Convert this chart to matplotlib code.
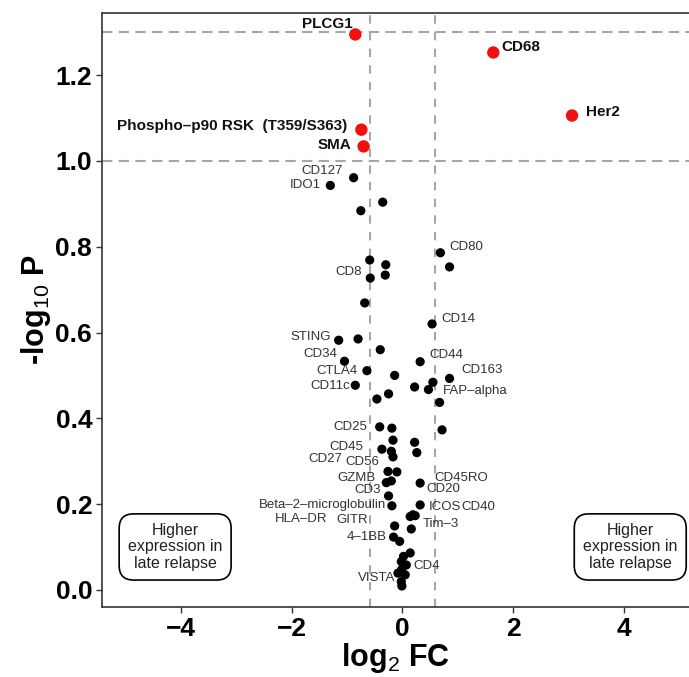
import matplotlib
matplotlib.use("Agg")
import matplotlib.pyplot as plt

plt.rcParams["font.family"] = ["Liberation Sans", "DejaVu Sans"]
plt.rcParams["mathtext.fontset"] = "custom"
plt.rcParams["mathtext.rm"] = "Liberation Sans"
plt.rcParams["mathtext.bf"] = "Liberation Sans:bold"

# ---- significant markers (p < 0.05) ----
sig_names = ["PLCG1", "CD68", "Her2", "Phospho\u2013p90 RSK  (T359/S363)", "SMA"]
sig_log2fc = [-0.85, 1.64, 3.06, -0.74, -0.70]
sig_neglogp = [1.295, 1.253, 1.106, 1.073, 1.034]

# ---- remaining markers ----
names = ["CD127", "IDO1", "", "", "CD80", "", "", "", "", "CD8",
         "", "CD14", "STING", "", "", "CD34", "CD44", "CTLA4", "", "CD163",
         "", "CD11c", "", "FAP\u2013alpha", "", "", "", "CD25", "", "",
         "", "", "CD45", "CD27", "", "", "CD56", "", "GZMB", "",
         "CD45RO", "CD3", "Beta\u20132\u2013microglobulin", "ICOS", "CD40", "", "CD20", "GITR", "Tim\u20133", "4\u20131BB",
         "HLA\u2013DR", "", "", "", "CD4", "", "VISTA", "", "", ""]
log2fc = [-0.88, -1.30, -0.355, -0.75, 0.685, 0.85, -0.59, -0.30, -0.31, -0.58,
          -0.68, 0.535, -1.15, -0.80, -0.40, -1.045, 0.32, -0.64, -0.14, 0.85,
          0.55, -0.85, 0.22, 0.47, -0.25, -0.46, 0.67, -0.41, -0.19, 0.715,
          -0.17, 0.22, -0.37, -0.20, 0.26, -0.17, -0.26, -0.10, -0.29, -0.20,
          0.32, -0.25, -0.19, 0.32, 0.19, 0.14, 0.23, -0.14, 0.16, -0.16,
          -0.05, 0.14, 0.02, -0.02, 0.07, -0.01, -0.08, 0.05, -0.02, -0.01]
neglogp = [0.961, 0.943, 0.904, 0.884, 0.786, 0.753, 0.769, 0.758, 0.734, 0.727,
           0.669, 0.620, 0.582, 0.585, 0.560, 0.533, 0.532, 0.511, 0.500, 0.493,
           0.484, 0.477, 0.473, 0.467, 0.457, 0.445, 0.437, 0.380, 0.377, 0.373,
           0.349, 0.344, 0.328, 0.323, 0.320, 0.310, 0.276, 0.275, 0.250, 0.254,
           0.249, 0.219, 0.196, 0.198, 0.175, 0.171, 0.173, 0.149, 0.142, 0.123,
           0.113, 0.086, 0.078, 0.066, 0.058, 0.048, 0.039, 0.035, 0.019, 0.009]

# label placement: (dx, dy) in pixels, horizontal alignment
label_pos = {
    "CD127": (-11, 7, "right"), "IDO1": (-9, 0, "right"), "CD80": (9, 6, "left"),
    "CD8": (-8, 6, "right"), "CD14": (9, 5, "left"), "STING": (-8, 3, "right"),
    "CD34": (-7, 7, "right"), "CD44": (9, 7, "left"), "CTLA4": (-9, 0, "right"),
    "CD163": (12, 8, "left"), "CD11c": (-5, -1, "right"), "FAP\u2013alpha": (14, -1, "left"),
    "CD25": (-12, 0, "right"), "CD45": (-19, 2, "right"), "CD27": (-49, -8, "right"),
    "CD56": (-9, 9, "right"), "GZMB": (-11, 5, "right"), "CD45RO": (14, 5, "left"),
    "CD3": (-8, 6, "right"), "Beta\u20132\u2013microglobulin": (-6, 1, "right"),
    "ICOS": (9, -2, "left"), "CD40": (48, 8, "left"), "CD20": (11, 27, "left"),
    "GITR": (-27, 6, "right"), "Tim\u20133": (11, 5, "left"), "4\u20131BB": (-7, 0, "right"),
    "HLA\u2013DR": (-72, 22, "right"), "CD4": (7, -1, "left"), "VISTA": (-3, -5, "right"),
}
sig_label_pos = {
    "PLCG1": (-3, 10, "right"), "CD68": (8, 5, "left"), "Her2": (14, 4, "left"),
    "Phospho\u2013p90 RSK  (T359/S363)": (-14, 4, "right"), "SMA": (-12, 1, "right"),
}

fc_cut = 0.585
p_cuts = [1.0, 1.301]

fig = plt.figure(figsize=(6.89, 6.77), dpi=100)
ax = fig.add_axes([0.148, 0.1034, 0.852, 0.878])

for yc in p_cuts:
    ax.axhline(yc, color="#a6a6a6", lw=1.5, ls=(0, (5, 3)), zorder=1)
for xc in (-fc_cut, fc_cut):
    ax.axvline(xc, color="#a6a6a6", lw=1.5, ls=(0, (4, 4)), zorder=1)

ax.scatter(log2fc, neglogp, s=44, color="black", edgecolors="none", zorder=3)
ax.scatter(sig_log2fc, sig_neglogp, s=80, color="#f01010", edgecolors="none", zorder=3)

for n, x, y in zip(names, log2fc, neglogp):
    if n:
        dx, dy, ha = label_pos[n]
        ax.annotate(n, (x, y), xytext=(dx, dy), textcoords="offset pixels",
                    ha=ha, va="center", fontsize=9.5, color="#333333", zorder=4)

for n, x, y in zip(sig_names, sig_log2fc, sig_neglogp):
    dx, dy, ha = sig_label_pos[n]
    ax.annotate(n, (x, y), xytext=(dx, dy), textcoords="offset pixels",
                ha=ha, va="center", fontsize=11, fontweight="bold", color="#111111", zorder=4)

box_text = "Higher\nexpression in\nlate relapse"
for bx in (-4.1, 4.11):
    ax.text(bx, 0.100, box_text, ha="center", va="center", fontsize=11.5,
            color="#222222", linespacing=1.15, zorder=5,
            bbox=dict(boxstyle="round,pad=0.55,rounding_size=0.9",
                      fc="white", ec="black", lw=1.2))

ax.set_xlim(-5.42, 5.17)
ax.set_ylim(-0.04, 1.346)
ax.set_xticks([-4, -2, 0, 2, 4])
ax.set_yticks([0.0, 0.2, 0.4, 0.6, 0.8, 1.0, 1.2])
ax.set_yticklabels(["0.0", "0.2", "0.4", "0.6", "0.8", "1.0", "1.2"])
ax.set_xticklabels(["\u22124", "\u22122", "0", "2", "4"])
ax.tick_params(axis="both", length=4, width=1, color="#333333",
               labelsize=19, pad=3)
for lab in ax.get_xticklabels() + ax.get_yticklabels():
    lab.set_fontweight("bold")

for side in ("left", "bottom", "top"):
    ax.spines[side].set_color("#333333")
    ax.spines[side].set_linewidth(1.2)
ax.spines["right"].set_visible(False)

ax.set_xlabel(r"log$_{\mathrm{2}}$ FC", fontsize=22, fontweight="bold", labelpad=0)
ax.set_ylabel(r"-log$_{\mathrm{10}}$ P", fontsize=22, fontweight="bold", labelpad=2)

fig.savefig("out.png", dpi=100)
